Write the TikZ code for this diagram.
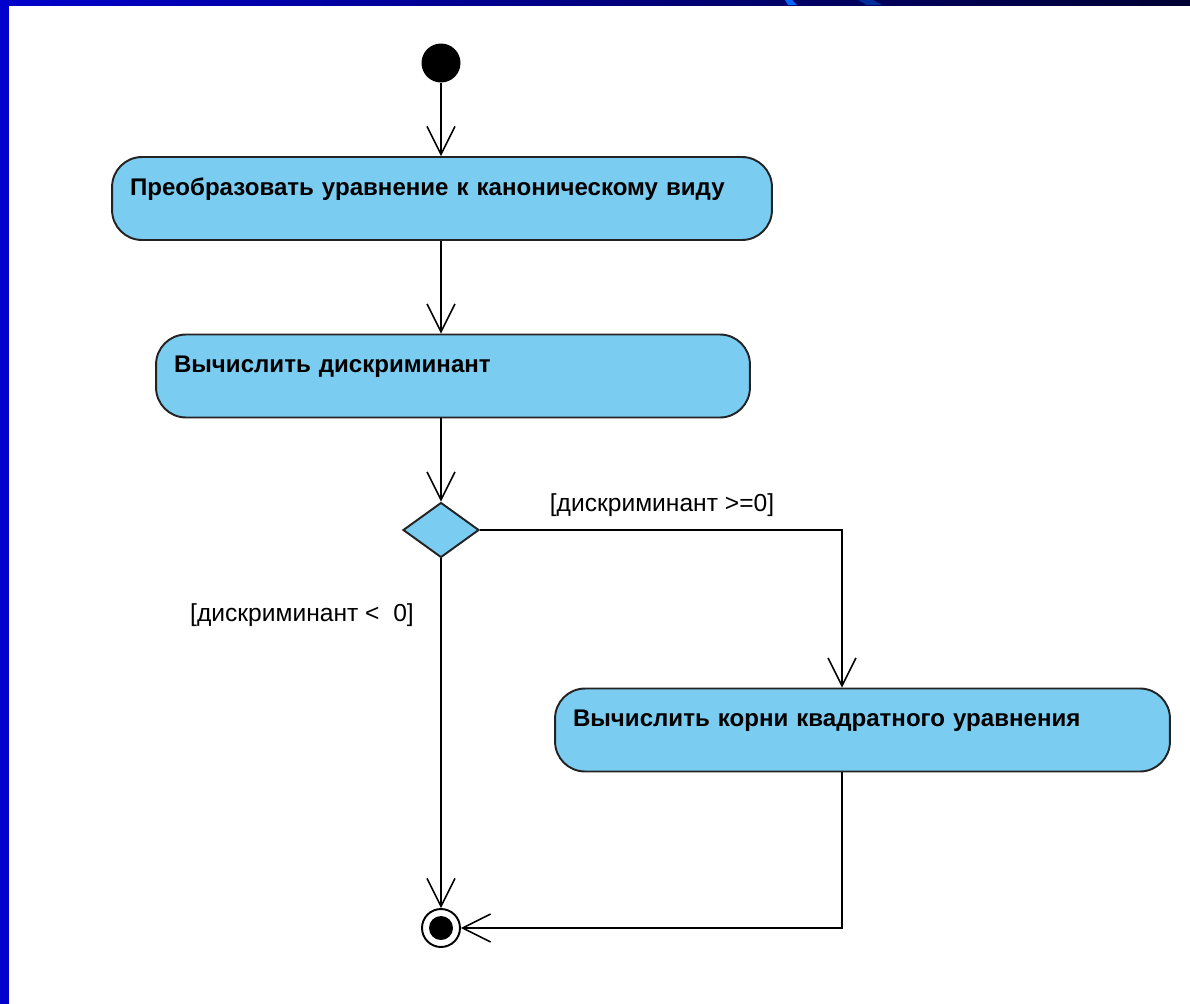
\documentclass[tikz,border=0pt]{standalone}
\usepackage{fontspec}
\setmainfont{Liberation Sans}
\usetikzlibrary{shapes.geometric,arrows.meta}
\definecolor{actblue}{RGB}{122,204,240}
\definecolor{barblue}{RGB}{0,0,204}
\definecolor{barnavy}{RGB}{0,0,51}
\definecolor{edgegray}{RGB}{35,35,35}

\begin{document}
\begin{tikzpicture}[x=0.02cm, y=-0.02cm,
		act/.style={draw=edgegray, line width=1.1pt, fill=actblue, rounded corners=0.6cm, align=left,
			inner xsep=0.36cm, inner ysep=0pt, text height=0.76cm, text depth=0.9cm,
			font=\bfseries\fontsize{13.7}{15}\selectfont},
		decision/.style={draw=edgegray, line width=1.1pt, fill=actblue, diamond,
			minimum width=1.52cm, minimum height=1.1cm, inner sep=0pt},
		startnode/.style={circle, fill=black, minimum size=0.78cm, inner sep=0pt},
		stopnode/.style={circle, draw, line width=1.1pt, minimum size=0.76cm, inner sep=0pt,
			path picture={\fill (path picture bounding box.center) circle (0.24cm);}},
		guard/.style={font=\fontsize{14}{16}\selectfont},
		flow/.style={line width=0.85pt, -{Straight Barb[length=0.56cm, width=0.56cm, line width=0.85pt]}}]
				% Frame
				\fill[white] (0,0) rectangle (1190,1004);
				\useasboundingbox (0,0) rectangle (1190,1004);
				\shade[left color=barblue, right color=barnavy] (0,0) rectangle (1190,5);
				\fill[barblue] (0,0) rectangle (9,1004);
				\fill[blue!60!cyan] (785,0) -- (792,0) -- (797,5) -- (788,5) -- cycle;
				\fill[blue!70!cyan!60!black] (858,0) -- (873,0) -- (882,5) -- (867,5) -- cycle;
				
				% Nodes
				\node[startnode] (start) at (441,63) {};
				\node[act, text width=12.48cm] (act1) at (442,198.5) {Преобразовать уравнение к каноническому виду};
				\node[act, text width=11.16cm] (act2) at (453,376) {Вычислить дискриминант};
				\node[decision] (dec) at (441,530) {};
				\node[act, text width=11.58cm] (act3) at (862.5,730) {Вычислить корни квадратного уравнения};
				\node[stopnode] (stop) at (441,928) {};
				
				% Guards
				\node[guard] (gyes) at (662,505) {[дискриминант >=0]};
				\node[guard] (gno) at (302,615) {[дискриминант <\ \ 0]};
				
				% Flows
				\coordinate (turn) at (842,530);
				\draw[flow] (start) -- (start |- act1.north);
				\draw[flow] (act1.south -| start) -- (act2.north -| start);
				\draw[flow] (act2.south -| start) -- (dec.north);
				\draw[flow] (dec.south) -- (stop.north);
				\draw[flow] (dec.east) -- (turn) -- (turn |- act3.north); % yes branch
				\draw[flow] (act3.south -| turn) -- (turn |- stop) -- (stop.east); % back to end
			\end{tikzpicture}
\end{document}
